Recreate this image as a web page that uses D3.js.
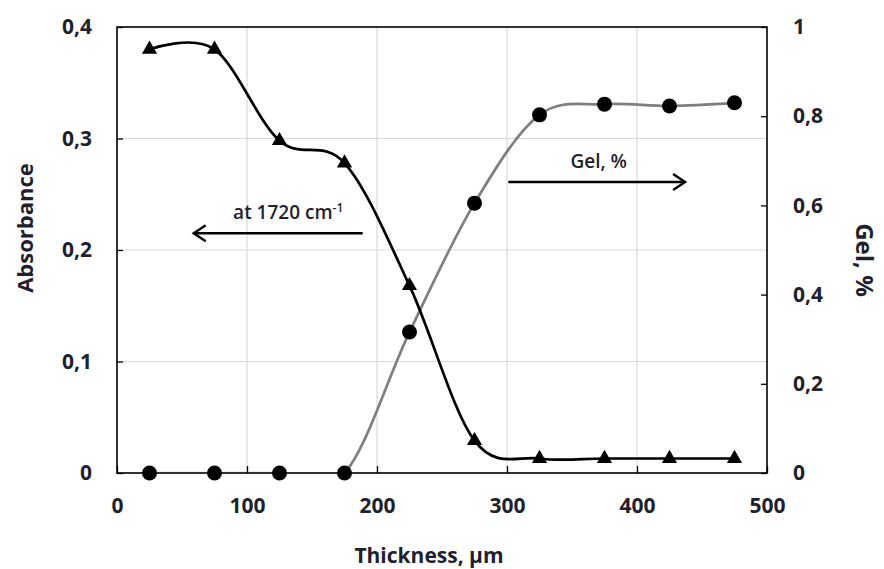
<!DOCTYPE html>
<html>
<head>
<meta charset="utf-8">
<script src="https://cdn.jsdelivr.net/npm/d3@7"></script>
<style>
  body { margin: 0; background: #fff; }
  svg text { font-family: "Open Sans", "DejaVu Sans", sans-serif; font-weight: 700; fill: #1f1f2e; }
</style>
</head>
<body>
<svg id="chart" width="884" height="569"></svg>
<script>
// Data
const thickness = [25, 75, 125, 175, 225, 275, 325, 375, 425, 475];
const absorbance = [0.38, 0.38, 0.298, 0.278, 0.168, 0.029, 0.013, 0.013, 0.013, 0.013];
const gel = [0, 0, 0, 0, 0.316, 0.605, 0.803, 0.827, 0.823, 0.83];

const xTicks = [0, 100, 200, 300, 400, 500];
const yLeftTicks = [0, 0.1, 0.2, 0.3, 0.4];
const yRightTicks = [0, 0.2, 0.4, 0.6, 0.8, 1];

// Annotation arrows, in data units (x, left-axis y)
const absArrow = { x1: 189, x2: 59, y: 0.215, label: "at 1720 cm", sup: "-1" };
const gelArrow = { x1: 301, x2: 437, y: 0.261, label: "Gel, %" };

const W = 884, H = 569;
const margin = { top: 27, right: 117, bottom: 96, left: 117 };
const plotW = W - margin.left - margin.right;
const plotH = H - margin.top - margin.bottom;

const svg = d3.select("#chart");
const g = svg.append("g").attr("transform", `translate(${margin.left},${margin.top})`);

const x = d3.scaleLinear().domain([0, 500]).range([0, plotW]);
const yL = d3.scaleLinear().domain([0, 0.4]).range([plotH, 0]);
const yR = d3.scaleLinear().domain([0, 1]).range([plotH, 0]);

const fmt = (d) => String(d).replace(".", ",");

// grid
g.append("g")
  .selectAll("line")
  .data(xTicks.slice(1, -1))
  .join("line")
  .attr("x1", (d) => x(d)).attr("x2", (d) => x(d))
  .attr("y1", 0).attr("y2", plotH)
  .attr("stroke", "#d9d9d9").attr("stroke-width", 1.2);

g.append("g")
  .selectAll("line")
  .data(yLeftTicks.slice(1, -1))
  .join("line")
  .attr("x1", 0).attr("x2", plotW)
  .attr("y1", (d) => yL(d)).attr("y2", (d) => yL(d))
  .attr("stroke", "#d9d9d9").attr("stroke-width", 1.2);

// axes (ticks pointing inward)
const xAxis = g.append("g")
  .attr("transform", `translate(0,${plotH})`)
  .call(d3.axisBottom(x).tickValues(xTicks).tickFormat(fmt).tickSize(-7).tickPadding(25));
const yAxisL = g.append("g")
  .call(d3.axisLeft(yL).tickValues(yLeftTicks).tickFormat(fmt).tickSize(-6).tickPadding(25));
const yAxisR = g.append("g")
  .attr("transform", `translate(${plotW},0)`)
  .call(d3.axisRight(yR).tickValues(yRightTicks).tickFormat(fmt).tickSize(-6).tickPadding(26));

[xAxis, yAxisL, yAxisR].forEach((a) => {
  a.select(".domain").remove();
  a.selectAll(".tick line").attr("stroke", "#000").attr("stroke-width", 1.3);
  a.selectAll("text").attr("font-size", 21).attr("fill", "#1f1f2e");
});

// plot frame
g.append("rect")
  .attr("width", plotW).attr("height", plotH)
  .attr("fill", "none").attr("stroke", "#000").attr("stroke-width", 1.6);

// clip for smoothed lines
svg.append("defs").append("clipPath").attr("id", "plot-clip")
  .append("rect").attr("x", -2).attr("y", -2).attr("width", plotW + 4).attr("height", plotH + 0.5);

const curve = d3.curveCardinal.tension(0);

const gelLine = d3.line().x((d, i) => x(thickness[i])).y((d) => yR(d)).curve(curve);
const absLine = d3.line().x((d, i) => x(thickness[i])).y((d) => yL(d)).curve(curve);

g.append("path")
  .datum(gel)
  .attr("clip-path", "url(#plot-clip)")
  .attr("d", gelLine)
  .attr("fill", "none").attr("stroke", "#7f7f7f").attr("stroke-width", 2.7);

g.append("path")
  .datum(absorbance)
  .attr("d", absLine)
  .attr("fill", "none").attr("stroke", "#000").attr("stroke-width", 2.7);

// markers
g.append("g")
  .selectAll("circle")
  .data(gel)
  .join("circle")
  .attr("cx", (d, i) => x(thickness[i]))
  .attr("cy", (d) => yR(d))
  .attr("r", 7.5)
  .attr("fill", "#000");

const tri = d3.symbol().type(d3.symbolTriangle).size(100);
g.append("g")
  .selectAll("path")
  .data(absorbance)
  .join("path")
  .attr("transform", (d, i) => `translate(${x(thickness[i])},${yL(d)})`)
  .attr("d", tri)
  .attr("fill", "#000");

// annotation arrows
function drawArrow(a) {
  const ay = yL(a.y);
  const x1 = x(a.x1), x2 = x(a.x2);
  const dir = Math.sign(x2 - x1);
  g.append("line")
    .attr("x1", x1).attr("x2", x2).attr("y1", ay).attr("y2", ay)
    .attr("stroke", "#000").attr("stroke-width", 2.4);
  g.append("path")
    .attr("d", `M${x2 - dir * 12},${ay - 8}L${x2},${ay}L${x2 - dir * 12},${ay + 8}`)
    .attr("fill", "none").attr("stroke", "#000").attr("stroke-width", 2.4);
}
drawArrow(absArrow);
drawArrow(gelArrow);

const absText = g.append("text")
  .attr("x", (x(absArrow.x1) + x(absArrow.x2)) / 2 + 10)
  .attr("y", yL(absArrow.y) - 14)
  .attr("text-anchor", "middle")
  .attr("font-size", 19)
  .style("font-weight", 600);
absText.append("tspan").text(absArrow.label);
absText.append("tspan").attr("dy", -7).attr("font-size", 12).text(absArrow.sup);

g.append("text")
  .attr("x", (x(gelArrow.x1) + x(gelArrow.x2)) / 2 + 2)
  .attr("y", yL(gelArrow.y) - 14)
  .attr("text-anchor", "middle")
  .attr("font-size", 19)
  .style("font-weight", 600)
  .text(gelArrow.label);

// axis titles
svg.append("text")
  .attr("transform", "translate(33,228) rotate(-90)")
  .attr("text-anchor", "middle")
  .attr("font-size", 22)
  .text("Absorbance");

svg.append("text")
  .attr("transform", "translate(856,260) rotate(90)")
  .attr("text-anchor", "middle")
  .attr("font-size", 24)
  .text("Gel, %");

svg.append("text")
  .attr("x", 429)
  .attr("y", 563)
  .attr("text-anchor", "middle")
  .attr("font-size", 21)
  .text("Thickness, µm");
</script>
</body>
</html>
